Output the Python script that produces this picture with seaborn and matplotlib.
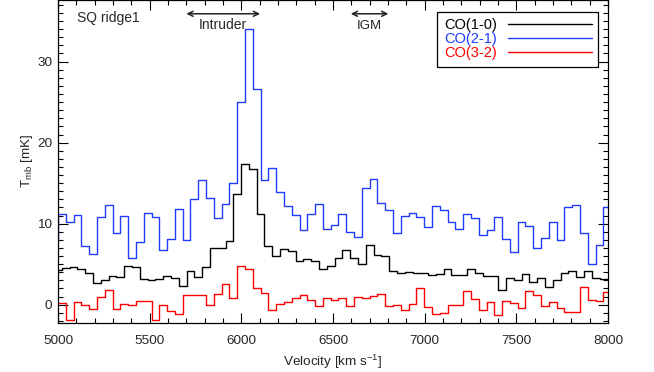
import numpy as np
import pandas as pd
import matplotlib
matplotlib.use("Agg")
import matplotlib.pyplot as plt
from matplotlib.ticker import MultipleLocator
from matplotlib.lines import Line2D
import seaborn as sns

# ---------------- data ----------------
channel_width = 42.5            # km/s
first_center_hi = 4978.75       # first channel centre of CO(2-1) and CO(3-2)
first_center_10 = 5000.0        # first channel centre of CO(1-0)

co21 = [8.1, 11.2, 10.2, 11.1, 7.3, 6.2, 10.8, 12.35, 8.85, 10.9, 5.8, 7.7,
        11.3, 10.8, 6.7, 8.1, 11.8, 8.0, 13.1, 15.4, 13.2, 10.7, 12.4, 15.0,
        25.0, 34.0, 26.65, 15.4, 16.9, 13.9, 12.2, 11.1, 9.2, 11.2, 12.4, 9.35,
        9.8, 11.15, 9.0, 8.35, 14.45, 15.45, 12.6, 11.7, 8.8, 10.95, 11.35, 10.85,
        9.6, 12.2, 11.7, 10.15, 9.3, 11.25, 10.75, 8.55, 9.25, 10.85, 8.05, 6.5,
        10.2, 9.65, 6.95, 8.2, 10.2, 8.0, 12.0, 12.35, 8.9, 5.05, 7.4, 12.0]

co32 = [0.2, 0.2, -1.85, 0.3, -0.1, -0.5, 1.0, 1.85, -0.5, 0.1, -0.1, 0.5,
        0.5, -1.85, -0.1, -0.8, -1.1, 1.2, 1.2, 1.2, -0.1, 1.35, 2.55, 0.8,
        4.8, 4.4, 2.1, 1.4, -0.6, 0.1, 0.3, 0.8, 1.2, 0.6, -0.2, 0.8,
        0.6, 0.8, -0.2, 0.9, 0.8, 1.1, 1.3, -0.2, 0.0, -0.7, 0.1, 2.0,
        -0.3, -1.15, -1.0, -0.1, -0.1, 1.7, 0.75, -0.7, 0.35, -1.25, 0.5, 0.25,
        -0.4, 1.7, 1.2, -0.2, 0.3, -0.4, -0.9, -0.9, 2.2, 0.6, 0.45, 1.6]

co10 = [4.3, 4.5, 4.65, 4.45, 3.9, 2.7, 3.05, 3.55, 3.45, 4.8, 4.6, 3.2,
        3.1, 3.2, 3.6, 3.3, 2.35, 4.2, 3.4, 4.6, 7.0, 6.95, 7.9, 13.7,
        17.4, 16.7, 11.2, 7.2, 6.05, 6.9, 6.6, 5.35, 5.65, 5.45, 4.4, 4.8,
        5.7, 6.75, 5.8, 5.05, 7.35, 6.1, 5.95, 4.15, 3.85, 4.05, 3.95, 3.95,
        3.7, 3.8, 4.4, 3.65, 3.65, 4.4, 3.85, 3.55, 3.6, 1.85, 3.3, 3.05,
        3.8, 2.8, 3.3, 2.2, 3.05, 3.9, 4.2, 3.45, 4.1, 3.3, 3.2, 3.2]

series_names = ["CO(1-0)", "CO(2-1)", "CO(3-2)"]
series_colors = ["#000000", "#1f3cff", "#ff0000"]

x_ticks = [5000, 5500, 6000, 6500, 7000, 7500, 8000]
y_ticks = [0, 10, 20, 30]


def step_frame(values, first_center, name):
    vals = np.asarray(values, dtype=float)
    n = len(vals)
    left_edges = first_center - channel_width / 2 + channel_width * np.arange(n + 1)
    return pd.DataFrame({"Velocity": left_edges,
                         "T": np.append(vals, vals[-1]),
                         "line": name})


df = pd.concat([step_frame(co10, first_center_10, series_names[0]),
                step_frame(co21, first_center_hi, series_names[1]),
                step_frame(co32, first_center_hi, series_names[2])],
               ignore_index=True)

# ---------------- style ----------------
sns.set_style("ticks")
plt.rcParams["font.family"] = ["Liberation Sans", "DejaVu Sans"]
plt.rcParams["mathtext.fontset"] = "custom"
plt.rcParams["mathtext.rm"] = "Liberation Sans"
plt.rcParams["mathtext.it"] = "Liberation Sans:italic"

fig = plt.figure(figsize=(6.54, 3.72), dpi=100)
ax = fig.add_axes([58 / 654, 1 - 322.5 / 372, 550 / 654, 322.5 / 372])

palette = dict(zip(series_names, series_colors))
sns.lineplot(data=df, x="Velocity", y="T", hue="line", palette=palette,
             estimator=None, drawstyle="steps-post", linewidth=1.0,
             legend=False, ax=ax)

ax.set_xlim(5000, 8000)
ax.set_ylim(-2.2, 37.6)
ax.set_xticks(x_ticks)
ax.set_yticks(y_ticks)
ax.xaxis.set_minor_locator(MultipleLocator(100))
ax.yaxis.set_minor_locator(MultipleLocator(1))
ax.tick_params(which="both", direction="in", top=True, right=True,
               width=0.8, color="black", labelsize=9.7)
ax.tick_params(which="major", length=7)
ax.tick_params(which="minor", length=3.5)
ax.tick_params(axis="x", pad=9)
ax.tick_params(axis="y", pad=4)
for sp in ax.spines.values():
    sp.set_linewidth(0.9)
    sp.set_color("black")

ax.set_xlabel("Velocity [km s$^{-1}$]", fontsize=9.7, labelpad=4)
ax.set_ylabel("T$_{\\rm mb}$ [mK]", fontsize=9.7, labelpad=2)

# annotations
ax.text(5103, 35.4, "SQ ridge1", fontsize=10, ha="left", va="center")
ax.annotate("", xy=(5700, 35.9), xytext=(6102, 35.9),
            arrowprops=dict(arrowstyle="<->", color="#222222", lw=1.1,
                            mutation_scale=9, shrinkA=0, shrinkB=0))
ax.text(5902, 34.5, "Intruder", fontsize=10, ha="center", va="center")
ax.annotate("", xy=(6597, 35.9), xytext=(6802, 35.9),
            arrowprops=dict(arrowstyle="<->", color="#222222", lw=1.1,
                            mutation_scale=9, shrinkA=0, shrinkB=0))
ax.text(6700, 34.4, "IGM", fontsize=9.5, ha="center", va="center")

# legend
handles = [Line2D([], [], color=c, lw=1.0) for c in series_colors]
leg = ax.legend(handles, series_names, loc="upper right",
                bbox_to_anchor=(0.982, 0.963), borderaxespad=0,
                markerfirst=False, handlelength=5.7, handletextpad=0.8,
                fontsize=10.5, labelspacing=0.0, borderpad=0.45,
                fancybox=False, framealpha=1, edgecolor="black")
leg.get_frame().set_linewidth(0.9)
for txt, c in zip(leg.get_texts(), series_colors):
    txt.set_color(c)

fig.savefig("out.png", dpi=100)
